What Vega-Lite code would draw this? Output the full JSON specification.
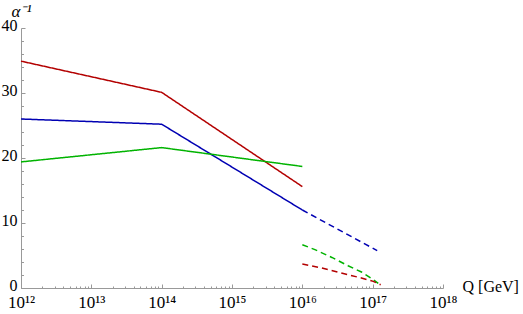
{
  "$schema": "https://vega.github.io/schema/vega-lite/v6.json",
  "width": 422,
  "height": 260,
  "autosize": {"type": "none"},
  "padding": {"left": 21, "top": 28, "right": 80, "bottom": 26},
  "config": {
    "view": {"stroke": null},
    "axis": {
      "labelFont": "Liberation Serif",
      "titleFont": "Liberation Serif",
      "grid": false,
      "domainColor": "#999999",
      "tickColor": "#999999",
      "labelColor": "#000000",
      "titleColor": "#000000",
      "titleFontWeight": "normal"
    }
  },
  "data": {
    "values": [
      {"Q": 1e12, "a": 34.9, "c": "red", "s": "solid"},
      {"Q": 1e14, "a": 30.1, "c": "red", "s": "solid"},
      {"Q": 1e16, "a": 15.6, "c": "red", "s": "solid"},
      {"Q": 1e12, "a": 26.0, "c": "blue", "s": "solid"},
      {"Q": 1e14, "a": 25.2, "c": "blue", "s": "solid"},
      {"Q": 1e16, "a": 12.0, "c": "blue", "s": "solid"},
      {"Q": 1e12, "a": 19.4, "c": "green", "s": "solid"},
      {"Q": 1e14, "a": 21.6, "c": "green", "s": "solid"},
      {"Q": 1e16, "a": 18.7, "c": "green", "s": "solid"},
      {"Q": 1e16, "a": 12.0, "c": "blue", "s": "dashed"},
      {"Q": 1.16e17, "a": 5.75, "c": "blue", "s": "dashed"},
      {"Q": 1e16, "a": 6.66, "c": "green", "s": "dashed"},
      {"Q": 1.51e16, "a": 5.9, "c": "green", "s": "dashed"},
      {"Q": 2.63e16, "a": 4.7, "c": "green", "s": "dashed"},
      {"Q": 4.47e16, "a": 3.43, "c": "green", "s": "dashed"},
      {"Q": 6.92e16, "a": 2.46, "c": "green", "s": "dashed"},
      {"Q": 1.02e17, "a": 1.28, "c": "green", "s": "dashed"},
      {"Q": 1.2e17, "a": 0.7, "c": "green", "s": "dashed"},
      {"Q": 1e16, "a": 3.69, "c": "red", "s": "dashed"},
      {"Q": 1.9e16, "a": 3.08, "c": "red", "s": "dashed"},
      {"Q": 4.07e16, "a": 2.15, "c": "red", "s": "dashed"},
      {"Q": 6.92e16, "a": 1.54, "c": "red", "s": "dashed"},
      {"Q": 1.02e17, "a": 1.02, "c": "red", "s": "dashed"},
      {"Q": 1.3e17, "a": 0.5, "c": "red", "s": "dashed"}
    ]
  },
  "layer": [
    {
      "mark": {"type": "line", "strokeWidth": 1.5},
      "encoding": {
        "x": {
          "field": "Q",
          "type": "quantitative",
          "scale": {"type": "log", "domain": [1e12, 1e18]},
          "axis": {
            "orient": "bottom",
            "values": [1e12, 1e13, 1e14, 1e15, 1e16, 1e17, 1e18],
            "labelExpr": "'10' + ['¹²','¹³','¹⁴','¹⁵','¹⁶','¹⁷','¹⁸'][round(log(datum.value)/LN10) - 12]",
            "tickSize": -4,
            "labelPadding": 10,
            "labelFont": "Liberation Serif",
            "labelFontSize": 17,
            "labelFlush": false,
            "labelOverlap": false,
            "title": "Q [GeV]",
            "titleFont": "Liberation Serif",
            "titleX": 441,
            "titleY": 3,
            "titleAlign": "left",
            "titleBaseline": "alphabetic",
            "titleFontSize": 16
          }
        },
        "y": {
          "field": "a",
          "type": "quantitative",
          "scale": {"domain": [0, 40], "nice": false},
          "axis": {
            "orient": "left",
            "values": [0, 10, 20, 30, 40],
            "tickSize": -4,
            "labelPadding": 8,
            "labelFont": "Liberation Serif",
            "labelFontSize": 16,
            "labelFlush": false,
            "labelOffset": -3,
            "title": "α⁻¹",
            "titleFont": "Liberation Serif",
            "titleAngle": 0,
            "titleX": 0,
            "titleY": -12,
            "titleAlign": "center",
            "titleBaseline": "alphabetic",
            "titleFontStyle": "italic",
            "titleFontSize": 17
          }
        },
        "color": {
          "field": "c",
          "type": "nominal",
          "scale": {"domain": ["red", "blue", "green"], "range": ["#b30000", "#0000b3", "#00b300"]},
          "legend": null
        },
        "strokeDash": {
          "field": "s",
          "type": "nominal",
          "scale": {"domain": ["solid", "dashed"], "range": [[1, 0], [6, 4]]},
          "legend": null
        }
      }
    },
    {
      "mark": {"type": "line", "opacity": 0},
      "encoding": {
        "x": {
          "field": "Q",
          "type": "quantitative",
          "axis": {
            "orient": "bottom",
            "values": [2e12,3e12,4e12,5e12,6e12,7e12,8e12,9e12,2e13,3e13,4e13,5e13,6e13,7e13,8e13,9e13,2e14,3e14,4e14,5e14,6e14,7e14,8e14,9e14,2e15,3e15,4e15,5e15,6e15,7e15,8e15,9e15,2e16,3e16,4e16,5e16,6e16,7e16,8e16,9e16,2e17,3e17,4e17,5e17,6e17,7e17,8e17,9e17],
            "labels": false,
            "domain": false,
            "tickSize": -2,
            "title": null
          }
        },
        "y": {
          "field": "a",
          "type": "quantitative",
          "axis": {
            "orient": "left",
            "values": [2,4,6,8,12,14,16,18,22,24,26,28,32,34,36,38],
            "labels": false,
            "domain": false,
            "tickSize": -2.5,
            "title": null
          }
        },
        "detail": {"field": "c"}
      }
    }
  ],
  "resolve": {"axis": {"x": "independent", "y": "independent"}}
}
